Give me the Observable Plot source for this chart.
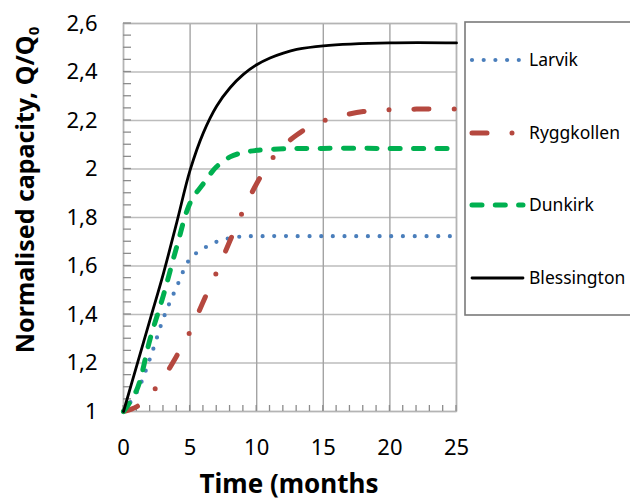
<!DOCTYPE html>
<html><head><meta charset="utf-8">
<script src="https://cdn.jsdelivr.net/npm/d3@7"></script>
<script src="https://cdn.jsdelivr.net/npm/@observablehq/plot@0.6"></script>
<style>body{margin:0;background:#fff} #chart{width:630px;height:503px}</style>
</head><body><div id="chart"></div>
<script>
// ---- data ----
const seriesNames = ["Larvik", "Ryggkollen", "Dunkirk", "Blessington"];

const larvikMonths = [0, 1, 2, 3, 4, 5, 6, 7, 8, 9, 10, 15, 20, 25];
const larvikValues = [1, 1.08, 1.22, 1.385, 1.515, 1.63, 1.672, 1.70, 1.715, 1.722, 1.723, 1.723, 1.723, 1.723];

const ryggMonths = [0, 1, 2, 3, 4, 5, 6, 7, 8, 9, 10, 11, 12, 13, 14, 15, 16, 18, 20, 22, 25];
const ryggValues = [1, 1.02, 1.07, 1.14, 1.23, 1.33, 1.455, 1.575, 1.705, 1.83, 1.94, 2.03, 2.095, 2.14, 2.175, 2.198, 2.215, 2.237, 2.244, 2.247, 2.247];

const dunkirkMonths = [0, 1, 2, 3, 4, 5, 6, 7, 8, 9, 10, 12, 15, 20, 25];
const dunkirkValues = [1, 1.09, 1.30, 1.48, 1.68, 1.86, 1.94, 2.01, 2.05, 2.068, 2.077, 2.083, 2.085, 2.085, 2.085];

const blessMonths = [0, 1, 2, 3, 4, 5, 6, 7, 8, 9, 10, 11, 12, 13, 15, 20, 25];
const blessValues = [1, 1.19, 1.38, 1.57, 1.78, 1.995, 2.15, 2.26, 2.335, 2.39, 2.43, 2.458, 2.478, 2.493, 2.508, 2.52, 2.52];

const xTickLabels = [0, 5, 10, 15, 20, 25];
const yTickLabels = [1, 1.2, 1.4, 1.6, 1.8, 2, 2.2, 2.4, 2.6];
const xMinorTicks = d3.range(0, 26, 1);
const yMinorTicks = d3.range(0, 33).map(i => +(1 + i * 0.05).toFixed(2));

// ---- styles ----
const styles = {
  Larvik:      {stroke: "#4a7ebb", strokeWidth: 4.2, strokeDasharray: "0,11.7", strokeLinecap: "round"},
  Ryggkollen:  {stroke: "#b5483f", strokeWidth: 5, strokeDasharray: "15,25,0,25", strokeLinecap: "round"},
  Dunkirk:     {stroke: "#00b050", strokeWidth: 5, strokeDasharray: "10,13.3", strokeLinecap: "round"},
  Blessington: {stroke: "#000000", strokeWidth: 2.8, strokeDasharray: null, strokeLinecap: "round"}
};

const toRows = (name, ts, vs) => ts.map((t, i) => ({name, t, v: vs[i]}));
const tables = {
  Larvik: toRows("Larvik", larvikMonths, larvikValues),
  Ryggkollen: toRows("Ryggkollen", ryggMonths, ryggValues),
  Dunkirk: toRows("Dunkirk", dunkirkMonths, dunkirkValues),
  Blessington: toRows("Blessington", blessMonths, blessValues)
};

const font = "'Noto Sans', 'Open Sans', sans-serif";
const commaFmt = d => String(d).replace(".", ",");

const W = 630, H = 503, ML = 123, MR = 174, MT = 23, MB = 92;

const chart = Plot.plot({
  width: W,
  height: H,
  marginLeft: ML,
  marginRight: MR,
  marginTop: MT,
  marginBottom: MB,
  style: {fontFamily: font, background: "#fff", color: "#000"},
  x: {domain: [0, 25]},
  y: {domain: [1, 2.6]},
  marks: [
    Plot.gridY(yTickLabels, {stroke: "#bcbcbc", strokeOpacity: 1, strokeWidth: 1.4}),
    Plot.gridX(xTickLabels, {stroke: "#a4a4a4", strokeOpacity: 1, strokeWidth: 1.4}),
    Plot.frame({stroke: "#b4b4b4", strokeWidth: 1.4}),
    Plot.axisY(yTickLabels, {tickSize: 0, tickPadding: 26, tickFormat: commaFmt, fontSize: 22, label: null}),
    Plot.axisX(xTickLabels, {tickSize: 0, tickPadding: 28, tickFormat: d => String(d), fontSize: 22, label: null}),
    ...seriesNames.map(name => Plot.line(tables[name], {
      x: "t", y: "v", curve: "catmull-rom",
      ...styles[name],
      strokeLinejoin: "round"
    }))
  ]
});

document.getElementById("chart").appendChild(chart);

const svg = d3.select(chart);
const xs = chart.scale("x"), ys = chart.scale("y");

// inward minor tick marks, positioned through Plot's scales
const tickG = svg.insert("g", "g[aria-label='line']")
  .attr("stroke", "#8c8c8c").attr("stroke-width", 1.3);
yMinorTicks.forEach(v => {
  const py = ys.apply(v), px = xs.apply(0);
  tickG.append("line").attr("x1", px).attr("x2", px + 8).attr("y1", py).attr("y2", py);
});
xMinorTicks.forEach(v => {
  const px = xs.apply(v), py = ys.apply(1);
  tickG.append("line").attr("x1", px).attr("x2", px).attr("y1", py).attr("y2", py - 6);
});

// ---- titles and legend ----
svg.append("text")
  .attr("x", 289).attr("y", 493)
  .attr("text-anchor", "middle")
  .attr("font-family", font).attr("font-weight", "bold").attr("font-size", 26)
  .attr("fill", "#000")
  .text("Time (months");

const yt = svg.append("text")
  .attr("transform", "translate(34,190) rotate(-90)")
  .attr("text-anchor", "middle")
  .attr("font-family", font).attr("font-weight", "bold").attr("font-size", 25)
  .attr("fill", "#000");
yt.append("tspan").text("Normalised capacity, Q/Q");
yt.append("tspan").attr("font-size", 15).attr("dy", 5).text("0");

const lg = svg.append("g");
lg.append("rect")
  .attr("x", 465).attr("y", 22).attr("width", 200).attr("height", 293)
  .attr("fill", "#fff").attr("stroke", "#7a7a7a").attr("stroke-width", 1.6);

const legendY = {Larvik: 60, Ryggkollen: 133, Dunkirk: 205, Blessington: 278};
seriesNames.forEach(name => {
  const s = styles[name];
  const y = legendY[name];
  lg.append("line")
    .attr("x1", 472).attr("x2", 523).attr("y1", y).attr("y2", y)
    .attr("stroke", s.stroke).attr("stroke-width", s.strokeWidth)
    .attr("stroke-dasharray", s.strokeDasharray)
    .attr("stroke-linecap", s.strokeLinecap);
  lg.append("text")
    .attr("x", 529).attr("y", y).attr("dy", "0.35em")
    .attr("text-anchor", "start")
    .attr("font-family", font).attr("font-size", 17.5).attr("fill", "#000")
    .text(name);
});
</script>
</body></html>
